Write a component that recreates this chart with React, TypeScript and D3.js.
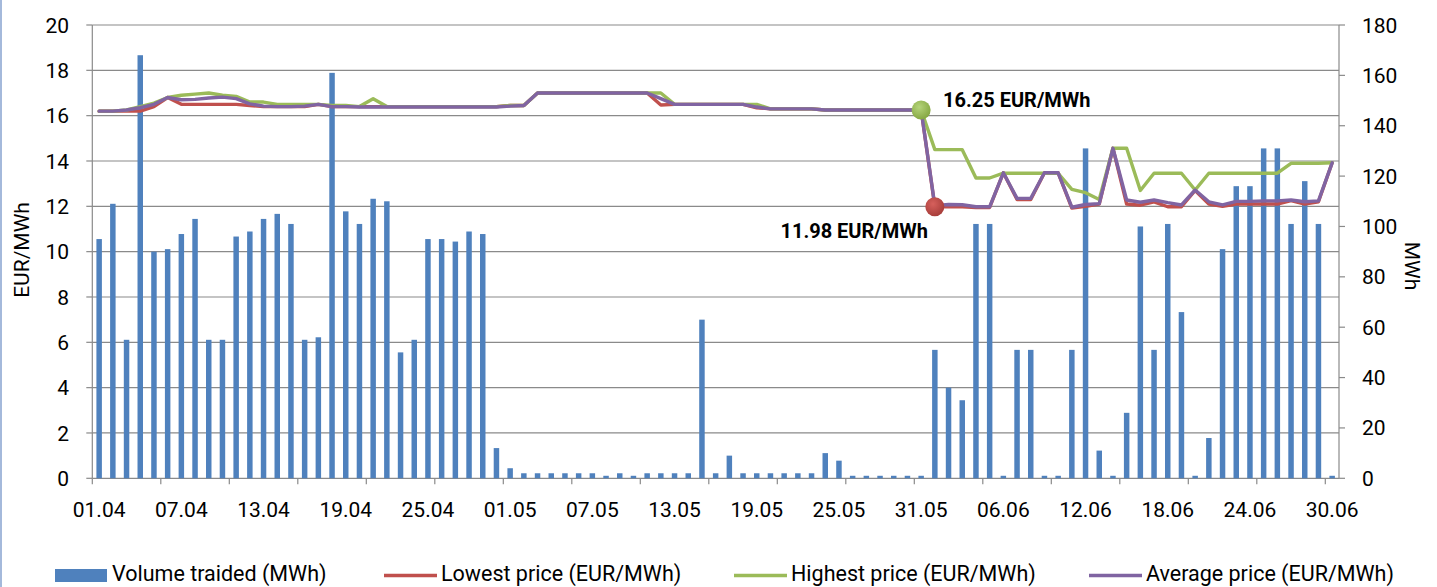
import { useMemo } from 'react';
import * as d3 from 'd3';

// one category per day, 01.04 .. 30.06
const days = d3.timeDay.range(new Date(2014, 3, 1), new Date(2014, 6, 1)).map(d3.timeFormat('%d.%m'));

const volume = [
  95, 109, 55, 168, 90, 91, 97, 103, 55, 55,
  96, 98, 103, 105, 101, 55, 56, 161, 106, 101,
  111, 110, 50, 55, 95, 95, 94, 98, 97, 12,
  4, 2, 2, 2, 2, 2, 2, 1, 2, 1,
  2, 2, 2, 2, 63, 2, 9, 2, 2, 2,
  2, 2, 2, 10, 7, 1, 1, 1, 1, 1,
  1, 51, 36, 31, 101, 101, 1, 51, 51, 1,
  1, 51, 131, 11, 1, 26, 100, 51, 101, 66,
  1, 16, 91, 116, 116, 131, 131, 101, 118, 101,
  1,
];

const lowest = [
  16.2, 16.2, 16.2, 16.2, 16.4, 16.8, 16.5, 16.5, 16.5, 16.5,
  16.5, 16.45, 16.4, 16.4, 16.4, 16.4, 16.5, 16.4, 16.4, 16.4,
  16.4, 16.4, 16.4, 16.4, 16.4, 16.4, 16.4, 16.4, 16.4, 16.4,
  16.45, 16.45, 17.0, 17.0, 17.0, 17.0, 17.0, 17.0, 17.0, 17.0,
  17.0, 16.47, 16.5, 16.5, 16.5, 16.5, 16.5, 16.5, 16.35, 16.3,
  16.3, 16.3, 16.3, 16.25, 16.25, 16.25, 16.25, 16.25, 16.25, 16.25,
  16.25, 11.98, 11.98, 11.98, 11.95, 11.95, 13.48, 12.3, 12.3, 13.48,
  13.48, 11.92, 12.0, 12.1, 14.56, 12.1, 12.05, 12.2, 11.98, 11.98,
  12.7, 12.1, 12.0, 12.1, 12.1, 12.1, 12.1, 12.25, 12.1, 12.2,
  13.92,
];

const highest = [
  16.2, 16.2, 16.25, 16.4, 16.55, 16.8, 16.9, 16.95, 17.0, 16.9,
  16.85, 16.6, 16.6, 16.5, 16.5, 16.5, 16.5, 16.45, 16.45, 16.4,
  16.75, 16.4, 16.4, 16.4, 16.4, 16.4, 16.4, 16.4, 16.4, 16.4,
  16.45, 16.45, 17.0, 17.0, 17.0, 17.0, 17.0, 17.0, 17.0, 17.0,
  17.0, 17.0, 16.5, 16.5, 16.5, 16.5, 16.5, 16.5, 16.5, 16.3,
  16.3, 16.3, 16.3, 16.25, 16.25, 16.25, 16.25, 16.25, 16.25, 16.25,
  16.25, 14.5, 14.5, 14.5, 13.25, 13.25, 13.46, 13.46, 13.46, 13.46,
  13.46, 12.75, 12.6, 12.3, 14.56, 14.56, 12.7, 13.46, 13.46, 13.46,
  12.72, 13.46, 13.46, 13.46, 13.46, 13.46, 13.46, 13.9, 13.9, 13.9,
  13.92,
];

const average = [
  16.2, 16.2, 16.25, 16.35, 16.5, 16.8, 16.7, 16.72, 16.78, 16.82,
  16.75, 16.52, 16.42, 16.4, 16.4, 16.42, 16.5, 16.4, 16.4, 16.38,
  16.38, 16.38, 16.38, 16.38, 16.38, 16.38, 16.38, 16.38, 16.38, 16.38,
  16.42, 16.45, 17.0, 17.0, 17.0, 17.0, 17.0, 17.0, 17.0, 17.0,
  17.0, 16.75, 16.5, 16.5, 16.5, 16.5, 16.5, 16.5, 16.38, 16.3,
  16.3, 16.3, 16.3, 16.25, 16.25, 16.25, 16.25, 16.25, 16.25, 16.25,
  16.25, 12.03, 12.08, 12.07, 11.98, 11.98, 13.48, 12.35, 12.35, 13.48,
  13.48, 11.96, 12.08, 12.12, 14.56, 12.28, 12.18, 12.28, 12.16, 12.06,
  12.72, 12.2, 12.06, 12.22, 12.22, 12.24, 12.24, 12.28, 12.2, 12.24,
  13.92,
];

const leftTicks = d3.range(0, 21, 2);
const rightTicks = d3.range(0, 181, 20);

const legendItems = [
  { label: 'Volume traided (MWh)', color: '#4f81bd', kind: 'rect', x: 55 },
  { label: 'Lowest price (EUR/MWh)', color: '#c0504d', kind: 'line', x: 384 },
  { label: 'Highest price (EUR/MWh)', color: '#9bbb59', kind: 'line', x: 734 },
  { label: 'Average price (EUR/MWh)', color: '#8064a2', kind: 'line', x: 1089 },
];

const W = 1437;
const H = 587;
const PLOT = { left: 92.3, right: 1339, top: 25, bottom: 478.3 };
const FONT = 'Roboto, "Noto Sans", sans-serif';
const GRID = '#8a8a8a';

export default function App() {
  const x = useMemo(
    () => d3.scaleBand<number>().domain(d3.range(days.length)).range([PLOT.left, PLOT.right]).paddingInner(0),
    []
  );
  const yL = d3.scaleLinear().domain([0, 20]).range([PLOT.bottom, PLOT.top]);
  const yR = d3.scaleLinear().domain([0, 180]).range([PLOT.bottom, PLOT.top]);

  const bw = x.bandwidth();
  const cx = (i: number) => x(i)! + bw / 2;
  const barW = bw / 2.5;

  const line = d3
    .line<number>()
    .x((_, i) => cx(i))
    .y((d) => yL(d));

  const series = [
    { values: lowest, color: '#c0504d' },
    { values: highest, color: '#9bbb59' },
    { values: average, color: '#8064a2' },
  ];

  const hiIdx = 60;
  const loIdx = 61;

  return (
    <div style={{ position: 'absolute', left: 0, top: 0 }}>
      <svg width={W} height={H} style={{ display: 'block', background: '#fff' }} fontFamily={FONT}>
        <defs>
          <radialGradient id="gGreen" cx="40%" cy="35%" r="65%">
            <stop offset="0%" stopColor="#b5d47a" />
            <stop offset="100%" stopColor="#86a843" />
          </radialGradient>
          <radialGradient id="gRed" cx="40%" cy="35%" r="65%">
            <stop offset="0%" stopColor="#d6605c" />
            <stop offset="100%" stopColor="#a83e3b" />
          </radialGradient>
        </defs>

        <line x1={1} x2={1} y1={0} y2={H} stroke="#86a2cf" strokeWidth={1.5} />

        {/* gridlines */}
        {leftTicks.map((t) => (
          <line key={t} x1={PLOT.left} x2={PLOT.right} y1={yL(t)} y2={yL(t)} stroke={GRID} strokeWidth={1.2} />
        ))}

        {/* bars */}
        {volume.map((v, i) => (
          <rect key={i} x={cx(i) - barW / 2} y={yR(v)} width={barW} height={PLOT.bottom - yR(v)} fill="#4f81bd" />
        ))}

        {/* axes */}
        <line x1={PLOT.left} x2={PLOT.left} y1={PLOT.top} y2={PLOT.bottom} stroke={GRID} strokeWidth={1.2} />
        <line x1={PLOT.right} x2={PLOT.right} y1={PLOT.top} y2={PLOT.bottom} stroke={GRID} strokeWidth={1.2} />
        {leftTicks.map((t) => (
          <g key={t}>
            <line x1={PLOT.left - 6} x2={PLOT.left} y1={yL(t)} y2={yL(t)} stroke={GRID} strokeWidth={1.2} />
            <text x={69} y={yL(t)} dy="0.36em" textAnchor="end" fontSize={21} fill="#000">
              {t}
            </text>
          </g>
        ))}
        {rightTicks.map((t) => (
          <g key={t}>
            <line x1={PLOT.right} x2={PLOT.right + 6} y1={yR(t)} y2={yR(t)} stroke={GRID} strokeWidth={1.2} />
            <text x={1362} y={yR(t)} dy="0.36em" textAnchor="start" fontSize={21} fill="#000">
              {t}
            </text>
          </g>
        ))}
        {d3.range(0, days.length + 1, 5).map((k) => (
          <line
            key={k}
            x1={PLOT.left + k * bw}
            x2={PLOT.left + k * bw}
            y1={PLOT.bottom}
            y2={PLOT.bottom + 6}
            stroke={GRID}
            strokeWidth={1.2}
          />
        ))}
        {days.map((d, i) =>
          i % 6 === 0 ? (
            <text key={d} x={cx(i)} y={517} textAnchor="middle" fontSize={21} fill="#000">
              {d}
            </text>
          ) : null
        )}

        <text transform="translate(29,250) rotate(-90)" textAnchor="middle" fontSize={21} fill="#000">
          EUR/MWh
        </text>
        <text transform="translate(1405,266) rotate(90)" textAnchor="middle" fontSize={21} fill="#000">
          MWh
        </text>

        {/* price lines */}
        {series.map((s) => (
          <path
            key={s.color}
            d={line(s.values) ?? ''}
            fill="none"
            stroke={s.color}
            strokeWidth={3.4}
            strokeLinejoin="round"
            strokeLinecap="round"
          />
        ))}

        {/* annotations */}
        <circle cx={cx(hiIdx)} cy={yL(highest[hiIdx])} r={9.5} fill="url(#gGreen)" />
        <circle cx={cx(loIdx)} cy={yL(lowest[loIdx])} r={9.5} fill="url(#gRed)" />
        <text x={943} y={107} fontSize={20} fontWeight="bold" fill="#000">
          {highest[hiIdx].toFixed(2)} EUR/MWh
        </text>
        <text x={928} y={238} textAnchor="end" fontSize={20} fontWeight="bold" fill="#000">
          {lowest[loIdx].toFixed(2)} EUR/MWh
        </text>

        {/* legend */}
        {legendItems.map((it) => (
          <g key={it.label}>
            {it.kind === 'rect' ? (
              <rect x={it.x} y={569} width={52} height={13} fill={it.color} />
            ) : (
              <line x1={it.x} x2={it.x + 53} y1={575.5} y2={575.5} stroke={it.color} strokeWidth={3.5} />
            )}
            <text x={it.x + 57} y={581} fontSize={21.5} fill="#000">
              {it.label}
            </text>
          </g>
        ))}
      </svg>
    </div>
  );
}
